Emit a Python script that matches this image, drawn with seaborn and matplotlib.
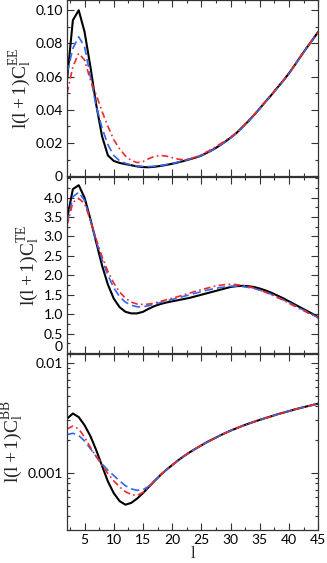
import numpy as np
import pandas as pd
import matplotlib
matplotlib.use("Agg")
import matplotlib.pyplot as plt
import seaborn as sns
from matplotlib.ticker import MultipleLocator, FixedLocator, FixedFormatter, LogLocator, NullFormatter

# multipole l
ell = np.arange(2, 46)

# l(l+1)C_l^EE
ee_black = [0.058, 0.094, 0.100, 0.087, 0.066, 0.043, 0.024, 0.0125, 0.0092, 0.0080,
            0.0073, 0.0066, 0.0059, 0.0055, 0.0054, 0.0057, 0.0062, 0.0068, 0.0075, 0.0083,
            0.0092, 0.0102, 0.0112, 0.0124, 0.0142, 0.0160, 0.0182, 0.0206, 0.0232, 0.0260,
            0.0295, 0.0330, 0.0368, 0.0408, 0.0450, 0.0490, 0.0533, 0.0575, 0.0620, 0.0670,
            0.0722, 0.0772, 0.0820, 0.0870]
ee_blue = [0.062, 0.077, 0.084, 0.078, 0.060, 0.042, 0.029, 0.019, 0.0125, 0.0093,
           0.0078, 0.0068, 0.0062, 0.0059, 0.0058, 0.0060, 0.0064, 0.0070, 0.0077, 0.0085,
           0.0094, 0.0103, 0.0113, 0.0125, 0.0142, 0.0160, 0.0181, 0.0205, 0.0231, 0.0259,
           0.0293, 0.0328, 0.0366, 0.0406, 0.0448, 0.0488, 0.0531, 0.0573, 0.0618, 0.0668,
           0.0720, 0.0770, 0.0818, 0.0868]
ee_red = [0.050, 0.066, 0.074, 0.070, 0.058, 0.049, 0.039, 0.030, 0.022, 0.0165,
          0.0122, 0.0095, 0.0082, 0.0088, 0.0106, 0.0120, 0.0125, 0.0121, 0.0112, 0.0103,
          0.0099, 0.0104, 0.0115, 0.0130, 0.0148, 0.0168, 0.0190, 0.0212, 0.0236, 0.0262,
          0.0296, 0.0331, 0.0369, 0.0409, 0.0451, 0.0491, 0.0534, 0.0576, 0.0621, 0.0671,
          0.0723, 0.0773, 0.0821, 0.0871]

# l(l+1)C_l^TE
te_black = [3.45, 4.22, 4.32, 4.00, 3.45, 2.85, 2.25, 1.76, 1.40, 1.18,
            1.06, 1.02, 1.02, 1.06, 1.14, 1.21, 1.26, 1.30, 1.33, 1.36,
            1.39, 1.42, 1.46, 1.50, 1.54, 1.58, 1.62, 1.66, 1.70, 1.72,
            1.73, 1.72, 1.70, 1.66, 1.61, 1.55, 1.48, 1.41, 1.33, 1.25,
            1.17, 1.09, 1.01, 0.92]
te_blue = [3.35, 4.02, 4.14, 3.93, 3.42, 2.88, 2.40, 2.00, 1.68, 1.45,
           1.31, 1.23, 1.19, 1.19, 1.22, 1.26, 1.30, 1.34, 1.38, 1.42,
           1.46, 1.50, 1.54, 1.58, 1.62, 1.65, 1.68, 1.70, 1.72, 1.72,
           1.71, 1.69, 1.66, 1.62, 1.57, 1.51, 1.44, 1.37, 1.30, 1.22,
           1.14, 1.07, 0.99, 0.91]
te_red = [3.28, 3.88, 3.98, 3.85, 3.42, 2.93, 2.48, 2.10, 1.80, 1.57,
          1.41, 1.31, 1.26, 1.25, 1.26, 1.29, 1.33, 1.37, 1.41, 1.45,
          1.50, 1.54, 1.59, 1.63, 1.67, 1.71, 1.74, 1.76, 1.77, 1.76,
          1.74, 1.71, 1.67, 1.62, 1.56, 1.50, 1.43, 1.36, 1.28, 1.20,
          1.13, 1.05, 0.98, 0.90]

# l(l+1)C_l^BB
bb_black = [0.0031, 0.00345, 0.0032, 0.0027, 0.00215, 0.0016, 0.00115, 0.00083, 0.00065, 0.00055,
            0.00051, 0.00053, 0.00058, 0.00065, 0.00074, 0.00084, 0.00095, 0.00106, 0.00117, 0.00129,
            0.00141, 0.00153, 0.00165, 0.00177, 0.00190, 0.00202, 0.00215, 0.00228, 0.00241, 0.00253,
            0.00266, 0.00278, 0.00290, 0.00302, 0.00314, 0.00326, 0.00339, 0.00351, 0.00363, 0.00376,
            0.00388, 0.00400, 0.00412, 0.00424]
bb_blue = [0.00222, 0.00228, 0.00218, 0.00194, 0.00165, 0.0014, 0.0012, 0.00105, 0.00094, 0.00084,
           0.00076, 0.00071, 0.00069, 0.00070, 0.00075, 0.00084, 0.00095, 0.00106, 0.00117, 0.00129,
           0.00141, 0.00153, 0.00165, 0.00177, 0.00190, 0.00202, 0.00215, 0.00228, 0.00241, 0.00253,
           0.00266, 0.00278, 0.00290, 0.00302, 0.00314, 0.00326, 0.00339, 0.00351, 0.00363, 0.00376,
           0.00388, 0.00400, 0.00412, 0.00424]
bb_red = [0.0025, 0.00265, 0.0025, 0.0021, 0.0017, 0.0014, 0.00117, 0.00098, 0.00084, 0.00074,
          0.00067, 0.00063, 0.00062, 0.00066, 0.00074, 0.00084, 0.00095, 0.00106, 0.00117, 0.00129,
          0.00141, 0.00153, 0.00165, 0.00177, 0.00190, 0.00202, 0.00215, 0.00228, 0.00241, 0.00253,
          0.00266, 0.00278, 0.00290, 0.00302, 0.00314, 0.00326, 0.00339, 0.00351, 0.00363, 0.00376,
          0.00388, 0.00400, 0.00412, 0.00424]

ylabels = [r"$\mathrm{l(l+1)C_l^{EE}}$", r"$\mathrm{l(l+1)C_l^{TE}}$", r"$\mathrm{l(l+1)C_l^{BB}}$"]

sns.set_style("ticks")
plt.rcParams["font.family"] = ["Lato", "DejaVu Sans"]
plt.rcParams["mathtext.fontset"] = "custom"
plt.rcParams["mathtext.rm"] = "Liberation Serif"
plt.rcParams["mathtext.it"] = "Liberation Serif:italic"

fig = plt.figure(figsize=(3.27, 5.63), dpi=100)
left, width = 0.205, 0.768
bottoms = [0.687, 0.373, 0.0586]
height = 0.3125
axes = [fig.add_axes([left, b, width, height]) for b in bottoms]

line_black = dict(color="black", lw=1.5)
line_blue = dict(color="#3366f5", lw=1.2, dashes=(5, 2.5))
line_red = dict(color="#f02a2a", lw=1.2, dashes=(4, 2, 1, 2))

panels = [(ee_black, ee_blue, ee_red), (te_black, te_blue, te_red), (bb_black, bb_blue, bb_red)]
for ax, (yk, yb, yr), lab in zip(axes, panels, ylabels):
    df = pd.DataFrame({"l": ell, "black": yk, "blue": yb, "red": yr})
    # black first, dashed curves drawn over it
    sns.lineplot(data=df, x="l", y="black", ax=ax, **line_black)
    sns.lineplot(data=df, x="l", y="blue", ax=ax, **line_blue)
    sns.lineplot(data=df, x="l", y="red", ax=ax, **line_red)
    ax.set_xlim(2, 45)
    ax.xaxis.set_major_locator(MultipleLocator(5))
    ax.xaxis.set_minor_locator(MultipleLocator(2.5))
    ax.tick_params(which="both", direction="in", top=True, right=True,
                   colors="#333333", labelcolor="black", labelsize=10, width=0.8)
    ax.tick_params(which="major", length=5, pad=3)
    ax.tick_params(which="minor", length=2.5)
    for s in ax.spines.values():
        s.set_color("#333333")
        s.set_linewidth(0.9)
    ax.set_ylabel(lab, fontsize=14, labelpad=2)
    ax.set_xlabel("")

# EE
ax = axes[0]
ax.set_ylim(0, 0.106)
ax.yaxis.set_major_locator(FixedLocator([0, 0.02, 0.04, 0.06, 0.08, 0.10]))
ax.yaxis.set_major_formatter(FixedFormatter(["0", "0.02", "0.04", "0.06", "0.08", "0.10"]))
ax.yaxis.set_minor_locator(MultipleLocator(0.01))
ax.tick_params(labelbottom=False)

# TE
ax = axes[1]
ax.set_ylim(0, 4.53)
ax.yaxis.set_major_locator(FixedLocator([0, 0.5, 1, 1.5, 2, 2.5, 3, 3.5, 4]))
ax.yaxis.set_major_formatter(FixedFormatter(["0", "0.5", "1.0", "1.5", "2.0", "2.5", "3.0", "3.5", "4.0"]))
ax.yaxis.set_minor_locator(MultipleLocator(0.25))
ax.tick_params(labelbottom=False)

# BB
ax = axes[2]
ax.set_yscale("log")
ax.set_ylim(3e-4, 0.012)
ax.yaxis.set_major_locator(FixedLocator([0.001, 0.01]))
ax.yaxis.set_major_formatter(FixedFormatter(["0.001", "0.01"]))
ax.yaxis.set_minor_locator(LogLocator(base=10, subs=np.arange(2, 10)))
ax.yaxis.set_minor_formatter(NullFormatter())
ax.set_xlabel("l", family="Liberation Serif", fontsize=12, labelpad=0)

fig.canvas.draw()
axes[0].get_yticklabels()[0].set_va("center_baseline")
axes[1].get_yticklabels()[0].set_va("bottom")

fig.savefig("out.png", dpi=100)
